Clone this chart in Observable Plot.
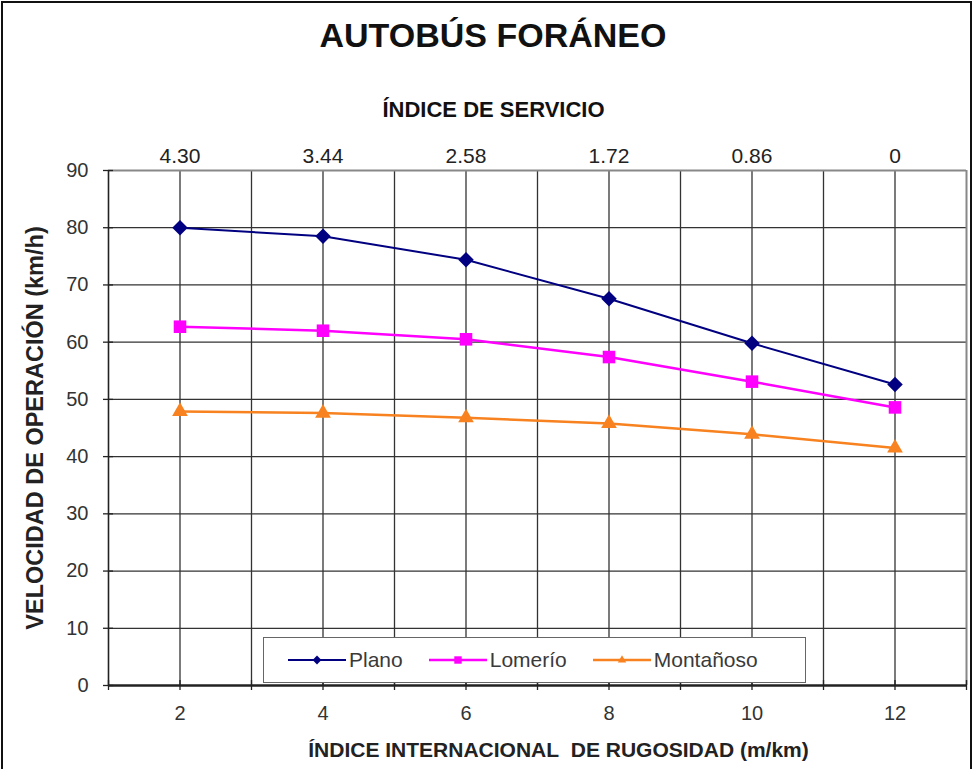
<!DOCTYPE html>
<html>
<head>
<meta charset="utf-8">
<script src="https://cdn.jsdelivr.net/npm/d3@7"></script>
<script src="https://cdn.jsdelivr.net/npm/@observablehq/plot@0.6"></script>
<style>
  body { margin: 0; background: #fff; font-family: "Liberation Sans", Arial, sans-serif; }
  #wrap { position: relative; width: 972px; height: 769px; overflow: hidden; background: #fff; }
  #border { position: absolute; left: 1px; top: 1px; width: 967px; height: 790px; border: 2px solid #111; pointer-events: none; }
  #title { height: 70px; box-sizing: border-box; padding-top: 19px; padding-left: 14px; text-align: center; font-weight: bold; font-size: 34px; line-height: 33px; color: #111; }
  #chart svg { display: block; }
  #legend { position: absolute; left: 263px; top: 637px; width: 543px; height: 46px; box-sizing: border-box;
            border: 1.5px solid #666; background: #fff; display: flex; align-items: center; padding-left: 24px; gap: 26px; }
  .item { display: flex; align-items: center; gap: 3px; font-size: 21px; color: #3a3a3a; }
</style>
</head>
<body>
<div id="wrap">
  <div id="title">AUTOBÚS FORÁNEO</div>
  <div id="chart"></div>
  <div id="legend"></div>
  <div id="border"></div>
</div>
<script>
// ---- data ----
const xValues = [2, 4, 6, 8, 10, 12];
const serviceLabels = ["4.30", "3.44", "2.58", "1.72", "0.86", "0"];
const yTicks = [0, 10, 20, 30, 40, 50, 60, 70, 80, 90];
const seriesNames = ["Plano", "Lomerío", "Montañoso"];
const plano = [80.0, 78.5, 74.4, 67.6, 59.8, 52.6];
const lomerio = [62.7, 62.0, 60.5, 57.4, 53.1, 48.6];
const montanoso = [47.9, 47.6, 46.8, 45.8, 43.9, 41.5];
const seriesColors = ["#000080", "#ff00ff", "#f7821f"];
const seriesSymbols = ["diamond2", "square2", "triangle2"];
const xTitle = "ÍNDICE INTERNACIONAL\u00a0 DE RUGOSIDAD (m/km)";
const yTitle = "VELOCIDAD DE OPERACIÓN (km/h)";
const topTitle = "ÍNDICE DE SERVICIO";

const seriesValues = [plano, lomerio, montanoso];
const rows = seriesNames.flatMap((s, k) => xValues.map((x, i) => ({series: s, x, y: seriesValues[k][i]})));

const lineWidths = [2, 2.5, 2.5];
const dotR = [7, 8, 7.5];

const lineMarks = seriesNames.flatMap((s, k) => {
  const d = rows.filter(r => r.series === s);
  return [
    Plot.line(d, {x: "x", y: "y", stroke: seriesColors[k], strokeWidth: lineWidths[k], curve: "linear"}),
    Plot.dot(d, {x: "x", y: "y", fill: seriesColors[k], symbol: seriesSymbols[k], r: dotR[k], stroke: "none"})
  ];
});

const chart = Plot.plot({
  width: 972,
  height: 699,
  marginLeft: 108,
  marginRight: 6,
  marginTop: 100,
  marginBottom: 84,
  style: {fontFamily: "'Liberation Sans', Arial, sans-serif", fontSize: "20px", color: "#333", background: "transparent"},
  x: {type: "linear", domain: [1, 13]},
  y: {domain: [0, 90]},
  marks: [
    Plot.gridX(d3.range(2, 13), {stroke: "#333", strokeOpacity: 1, strokeWidth: 1.3}),
    Plot.gridY(yTicks.slice(1, -1), {stroke: "#333", strokeOpacity: 1, strokeWidth: 1.3}),
    Plot.ruleX([13], {stroke: "#888", strokeWidth: 2}),
    Plot.ruleY([90], {stroke: "#888", strokeWidth: 2}),
    Plot.ruleX([1], {stroke: "#222", strokeWidth: 1.6}),
    Plot.ruleY([0], {stroke: "#222", strokeWidth: 2.5}),
    Plot.ruleX(d3.range(1, 14), {y1: 0, y2: 0, insetTop: -5, insetBottom: -5, stroke: "#222", strokeWidth: 1.3}),
    Plot.ruleY(yTicks, {x1: 1, x2: 1, insetLeft: -5, insetRight: -5, stroke: "#222", strokeWidth: 1.3}),
    Plot.axisY({ticks: yTicks, tickSize: 0, tickPadding: 20, label: null, fontSize: 20, fill: "#333"}),
    Plot.axisX({ticks: xValues, tickSize: 0, tickPadding: 20, label: null, fontSize: 20, fill: "#333"}),
    Plot.axisX({anchor: "top", ticks: xValues, tickFormat: d => serviceLabels[xValues.indexOf(d)], tickSize: 0, tickPadding: 8, label: null, fontSize: 21, fill: "#222"}),
    ...lineMarks,
    Plot.text([topTitle], {frameAnchor: "top", dx: -44, dy: -61, textAnchor: "middle", lineAnchor: "middle", fontWeight: "bold", fontSize: 22, fill: "#111"}),
    Plot.text([xTitle], {frameAnchor: "bottom", dx: 21, dy: 65, textAnchor: "middle", lineAnchor: "middle", fontWeight: "bold", fontSize: 21, fill: "#222"}),
    Plot.text([yTitle], {frameAnchor: "left", dx: -73, rotate: -90, textAnchor: "middle", lineAnchor: "middle", fontWeight: "bold", fontSize: 23.5, fill: "#222"})
  ]
});
document.getElementById("chart").appendChild(chart);

// ---- legend ----
const legend = d3.select("#legend");
const symPaths = {
  "diamond2": d3.symbol(d3.symbolDiamond2, 50)(),
  "square2": d3.symbol(d3.symbolSquare2, 70)(),
  "triangle2": d3.symbol(d3.symbolTriangle2, 50)()
};
seriesNames.forEach((s, k) => {
  const it = legend.append("div").attr("class", "item");
  const sv = it.append("svg").attr("width", 58).attr("height", 20);
  sv.append("line").attr("x1", 0).attr("x2", 58).attr("y1", 10).attr("y2", 10)
    .attr("stroke", seriesColors[k]).attr("stroke-width", lineWidths[k]);
  sv.append("path").attr("d", symPaths[seriesSymbols[k]]).attr("transform", "translate(29,10)").attr("fill", seriesColors[k]);
  it.append("span").text(s);
});
</script>
</body>
</html>
